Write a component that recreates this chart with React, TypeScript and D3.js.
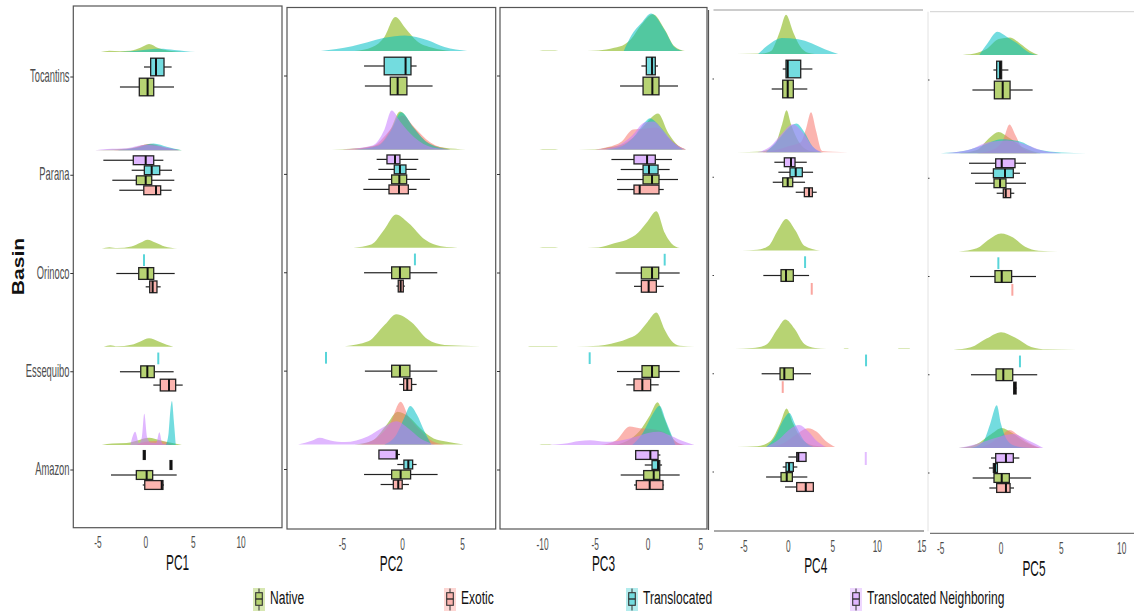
import React from "react";
import * as d3 from "d3";

// ---------- data ----------
const basins = ["Tocantins", "Parana", "Orinoco", "Essequibo", "Amazon"];
const groups = ["Native", "Exotic", "Translocated", "Translocated Neighboring"];
const dodgeOrder = ["Translocated Neighboring", "Translocated", "Native", "Exotic"];
const groupColors = ["#7CAE00", "#F8766D", "#00BFC4", "#C77CFF"];
const pcNames = ["PC1", "PC2", "PC3", "PC4", "PC5"];
const pcDomains = [[-7.59, 14.29], [-9.62, 7.77], [-14.03, 5.59], [-8.97, 15.13], [-6.05, 11.02]];
const pcTicks = [[-5, 0, 5, 10], [-5, 0, 5], [-10, -5, 0, 5], [-5, 0, 5, 10, 15], [-5, 0, 5, 10]];

// box stats: basin, group, lower whisker, q1, median, q3, upper whisker
const pc1Boxes = [
  ["Tocantins", "Translocated", -0.18, 0.52, 1.08, 1.92, 2.72],
  ["Tocantins", "Native", -2.7, -0.67, 0.2, 0.84, 2.97],
  ["Parana", "Translocated Neighboring", -4.44, -1.3, 0, 0.84, 1.85],
  ["Parana", "Translocated", -1.47, -0.14, 0.63, 1.47, 2.76],
  ["Parana", "Native", -3.5, -0.98, 0, 0.63, 3.0],
  ["Parana", "Exotic", -2.77, -0.2, 1.08, 1.57, 2.72],
  ["Orinoco", "Translocated", -0.18, -0.18, -0.18, -0.18, -0.18],
  ["Orinoco", "Native", -3.08, -0.73, 0.2, 0.84, 3.04],
  ["Orinoco", "Exotic", 0, 0.42, 0.73, 1.18, 1.57],
  ["Essequibo", "Translocated", 1.32, 1.32, 1.32, 1.32, 1.32],
  ["Essequibo", "Native", -2.7, -0.52, 0.17, 0.9, 2.93],
  ["Essequibo", "Exotic", 0.8, 1.53, 2.44, 3.14, 3.88],
  ["Amazon", "Translocated Neighboring", -0.25, -0.25, -0.15, -0.05, -0.05],
  ["Amazon", "Translocated", 2.55, 2.55, 2.65, 2.75, 2.75],
  ["Amazon", "Native", -3.64, -0.98, 0.1, 0.73, 3.25],
  ["Amazon", "Exotic", -0.31, -0.1, 1.68, 1.81, 1.92],
];
const pc2Boxes = [
  ["Tocantins", "Translocated", -3.2, -1.52, 0.26, 0.71, 1.18],
  ["Tocantins", "Native", -3.13, -1.01, -0.4, 0.37, 2.51],
  ["Parana", "Translocated Neighboring", -2.15, -1.29, -0.62, -0.21, 1.32],
  ["Parana", "Translocated", -2.01, -0.68, -0.21, 0.29, 1.18],
  ["Parana", "Native", -2.85, -0.9, -0.26, 0.35, 2.29],
  ["Parana", "Exotic", -3.26, -1.12, -0.29, 0.49, 1.18],
  ["Orinoco", "Translocated", 1.04, 1.04, 1.04, 1.04, 1.04],
  ["Orinoco", "Native", -3.2, -0.9, -0.21, 0.62, 2.9],
  ["Orinoco", "Exotic", -0.5, -0.35, -0.15, 0.07, 0.2],
  ["Essequibo", "Translocated", -6.37, -6.37, -6.37, -6.37, -6.37],
  ["Essequibo", "Native", -3.13, -0.9, -0.21, 0.62, 2.9],
  ["Essequibo", "Exotic", -0.26, 0.1, 0.4, 0.76, 1.18],
  ["Amazon", "Translocated Neighboring", -1.96, -1.96, -0.49, -0.43, -0.21],
  ["Amazon", "Translocated", -0.43, 0.12, 0.49, 0.85, 1.18],
  ["Amazon", "Native", -3.2, -0.9, -0.15, 0.68, 2.93],
  ["Amazon", "Exotic", -1.82, -0.76, -0.35, -0.02, 0.54],
];
const pc3Boxes = [
  ["Tocantins", "Translocated", -0.63, -0.16, 0.38, 0.69, 0.95],
  ["Tocantins", "Native", -2.65, -0.47, 0.41, 1.04, 2.84],
  ["Parana", "Translocated Neighboring", -3.47, -1.33, -0.09, 0.69, 2.27],
  ["Parana", "Translocated", -2.59, -0.47, 0.09, 0.95, 2.05],
  ["Parana", "Native", -2.94, -0.47, 0.38, 1.04, 2.84],
  ["Parana", "Exotic", -2.91, -1.33, -0.79, 1.04, 1.49],
  ["Orinoco", "Translocated", 1.58, 1.58, 1.58, 1.58, 1.58],
  ["Orinoco", "Native", -3.07, -0.63, 0.38, 1.01, 3.0],
  ["Orinoco", "Exotic", -1.33, -0.63, 0.06, 0.79, 1.49],
  ["Essequibo", "Translocated", -5.53, -5.53, -5.53, -5.53, -5.53],
  ["Essequibo", "Native", -2.94, -0.57, 0.38, 1.04, 3.0],
  ["Essequibo", "Exotic", -2.06, -1.33, -0.54, 0.25, 1.01],
  ["Amazon", "Translocated Neighboring", -1.17, -1.17, 0.22, 0.95, 1.17],
  ["Amazon", "Translocated", -0.31, 0.38, 0.95, 1.11, 1.33],
  ["Amazon", "Native", -2.59, -0.41, 0.54, 1.11, 3.0],
  ["Amazon", "Exotic", -1.33, -1.11, 0.16, 1.42, 1.52],
];
const pc4Boxes = [
  ["Tocantins", "Translocated", -0.63, -0.26, -0.07, 1.39, 2.7],
  ["Tocantins", "Native", -1.87, -0.63, -0.07, 0.56, 2.13],
  ["Parana", "Translocated Neighboring", -1.57, -0.45, 0.3, 0.75, 2.07],
  ["Parana", "Translocated", -1.12, 0.19, 0.83, 1.57, 2.78],
  ["Parana", "Native", -1.75, -0.63, -0.07, 0.49, 1.88],
  ["Parana", "Exotic", 0.83, 1.8, 2.33, 2.7, 3.19],
  ["Orinoco", "Translocated", 1.88, 1.88, 1.88, 1.88, 1.88],
  ["Orinoco", "Native", -2.81, -0.82, -0.26, 0.56, 2.33],
  ["Orinoco", "Exotic", 2.63, 2.63, 2.63, 2.63, 2.63],
  ["Essequibo", "Translocated", 8.73, 8.73, 8.73, 8.73, 8.73],
  ["Essequibo", "Native", -3.0, -0.93, -0.45, 0.56, 2.55],
  ["Essequibo", "Exotic", -0.63, -0.63, -0.63, -0.63, -0.63],
  ["Amazon", "Translocated Neighboring", 0, 0.94, 1.12, 1.99, 1.99],
  ["Amazon", "Translocated", -0.63, -0.26, 0.08, 0.56, 1.01],
  ["Amazon", "Native", -2.5, -0.82, -0.18, 0.45, 2.13],
  ["Amazon", "Exotic", -0.37, 0.94, 1.96, 2.81, 2.81],
];
const pc5Boxes = [
  ["Tocantins", "Translocated", -0.63, -0.36, -0.08, 0.05, 0.61],
  ["Tocantins", "Native", -2.37, -0.55, 0.14, 0.75, 2.62],
  ["Parana", "Translocated Neighboring", -2.65, -0.44, 0.06, 1.16, 2.07],
  ["Parana", "Translocated", -2.49, -0.63, 0.33, 1.02, 1.57],
  ["Parana", "Native", -2.15, -0.58, -0.08, 0.41, 2.07],
  ["Parana", "Exotic", -0.36, 0.19, 0.39, 0.8, 1.1],
  ["Orinoco", "Translocated", -0.22, -0.22, -0.22, -0.22, -0.22],
  ["Orinoco", "Native", -2.57, -0.5, 0.06, 0.88, 2.9],
  ["Orinoco", "Exotic", 0.94, 0.94, 0.94, 0.94, 0.94],
  ["Essequibo", "Translocated", 1.57, 1.57, 1.57, 1.57, 1.57],
  ["Essequibo", "Native", -2.49, -0.41, 0.19, 0.97, 3.0],
  ["Essequibo", "Exotic", 1.0, 1.05, 1.16, 1.25, 1.3],
  ["Amazon", "Translocated Neighboring", -0.83, -0.44, 0.41, 1.02, 1.52],
  ["Amazon", "Translocated", -1.0, -0.63, -0.5, -0.3, -0.3],
  ["Amazon", "Native", -2.35, -0.58, 0.06, 0.69, 2.49],
  ["Amazon", "Exotic", -0.97, -0.36, 0.41, 0.75, 1.08],
];

// outlying single observations: pc index, basin, group, value
const outliers = [[3, "Amazon", "Translocated Neighboring", 8.7]];

// density curves: basin, group, [value, density]
const pc1Dens = [
  ["Tocantins", "Native", [[-4.7, 0], [-3.8, 0.03], [-2.7, 0.02], [-1.6, 0.03], [-0.5, 0.11], [0.35, 0.2], [1.3, 0.1], [2.5, 0.03], [3.8, 0]]],
  ["Tocantins", "Translocated", [[-2.7, 0], [-1, 0.03], [0.5, 0.07], [1.5, 0.08], [3, 0.05], [4.2, 0.02], [5.2, 0]]],
  ["Parana", "Native", [[-5.3, 0], [-3.5, 0.02], [-1.5, 0.05], [0.3, 0.15], [2, 0.06], [3.8, 0]]],
  ["Parana", "Exotic", [[-4, 0], [-1.5, 0.04], [0.5, 0.16], [2, 0.07], [3.5, 0]]],
  ["Parana", "Translocated", [[-3, 0], [-1, 0.06], [0.8, 0.17], [2.3, 0.08], [3.8, 0]]],
  ["Parana", "Translocated Neighboring", [[-5.3, 0], [-4, 0.03], [-2, 0.05], [0, 0.14], [1.5, 0.1], [3.5, 0]]],
  ["Orinoco", "Native", [[-4.6, 0], [-3.8, 0.03], [-3, 0.01], [-1.5, 0.05], [-0.5, 0.15], [0.2, 0.22], [1, 0.15], [2, 0.05], [3.3, 0]]],
  ["Essequibo", "Native", [[-4.4, 0], [-3.7, 0.04], [-3, 0.01], [-1.5, 0.05], [-0.5, 0.14], [0.35, 0.21], [1.3, 0.14], [2.2, 0.05], [2.9, 0]]],
  ["Amazon", "Native", [[-4.6, 0], [-3.5, 0.04], [-2, 0.05], [-0.5, 0.14], [0.35, 0.18], [1.5, 0.12], [2.8, 0.05], [3.8, 0]]],
  ["Amazon", "Exotic", [[-1, 0], [0, 0.08], [1, 0.1], [2, 0.08], [2.8, 0]]],
  ["Amazon", "Translocated", [[2.1, 0], [2.4, 0.3], [2.6, 0.9], [2.75, 1.1], [2.95, 0.6], [3.15, 0]]],
  ["Amazon", "Translocated Neighboring", [[-1.6, 0], [-1.1, 0.33], [-0.7, 0.05], [-0.4, 0.2], [-0.15, 0.78], [0.15, 0.2], [0.5, 0.06], [1.1, 0.05], [1.43, 0.32], [1.75, 0.03], [2.5, 0]]],
];
const pc2Dens = [
  ["Tocantins", "Native", [[-4, 0], [-2.5, 0.1], [-1.5, 0.35], [-0.6, 0.85], [0.3, 0.55], [1.2, 0.25], [2.5, 0.08], [4, 0]]],
  ["Tocantins", "Translocated", [[-6.8, 0], [-4.2, 0.12], [-2.9, 0.22], [-1.5, 0.33], [0.2, 0.39], [2.1, 0.27], [3.5, 0.1], [5.4, 0]]],
  ["Parana", "Native", [[-5.9, 0], [-3.5, 0.03], [-2, 0.12], [-1, 0.5], [-0.2, 0.95], [0.8, 0.6], [2, 0.2], [3.5, 0.04], [5.3, 0]]],
  ["Parana", "Exotic", [[-5, 0], [-2.5, 0.08], [-1, 0.5], [0, 0.85], [1, 0.55], [2.3, 0.18], [4, 0]]],
  ["Parana", "Translocated", [[-4, 0], [-2, 0.1], [-1, 0.45], [-0.1, 0.93], [0.9, 0.55], [2.2, 0.15], [4, 0]]],
  ["Parana", "Translocated Neighboring", [[-5, 0], [-2.5, 0.1], [-1.5, 0.5], [-0.9, 0.97], [-0.2, 0.7], [1, 0.3], [2.5, 0.05], [4, 0]]],
  ["Orinoco", "Native", [[-4.1, 0], [-2.6, 0.08], [-1.5, 0.46], [-0.55, 0.83], [0.5, 0.62], [1.9, 0.2], [3.2, 0.04], [5.1, 0]]],
  ["Essequibo", "Native", [[-4.8, 0], [-2.85, 0.12], [-1.46, 0.54], [-0.5, 0.8], [0.76, 0.6], [2.1, 0.17], [3.5, 0.03], [6.5, 0]]],
  ["Amazon", "Native", [[-4, 0], [-2.5, 0.1], [-1.3, 0.5], [-0.4, 0.82], [0.5, 0.7], [1.5, 0.4], [2.6, 0.15], [3.5, 0.08], [5.1, 0]]],
  ["Amazon", "Exotic", [[-3.5, 0], [-2, 0.2], [-1, 0.55], [-0.15, 1.07], [0.5, 0.7], [1.5, 0.35], [2.5, 0.08], [3.5, 0]]],
  ["Amazon", "Translocated", [[-1.5, 0], [-0.5, 0.25], [0.2, 0.7], [0.65, 0.96], [1.2, 0.75], [1.8, 0.35], [2.4, 0]]],
  ["Amazon", "Translocated Neighboring", [[-8.7, 0], [-7.5, 0.1], [-6.9, 0.17], [-6, 0.1], [-4.8, 0.06], [-2.9, 0.2], [-1.5, 0.45], [-0.5, 0.58], [0.5, 0.4], [1.5, 0.15], [2.7, 0]]],
];
const pc3Dens = [
  ["Tocantins", "Native", [[-10.3, 0], [-10, 0.012], [-8.8, 0.012], [-8.5, 0], [-6.8, 0], [-4.7, 0.015], [-3.2, 0.08], [-2.2, 0.17], [-1.6, 0.3], [-0.63, 0.66], [0.47, 0.92], [1.58, 0.54], [2.5, 0.12], [3.5, 0]]],
  ["Tocantins", "Translocated", [[-2.3, 0], [-1.6, 0.38], [-0.63, 0.7], [0.3, 0.94], [1.58, 0.52], [2.5, 0.1], [3.3, 0]]],
  ["Parana", "Native", [[-10.3, 0], [-10, 0.01], [-8.8, 0.01], [-8.5, 0], [-6.6, 0], [-4.7, 0.01], [-3.8, 0.05], [-2.5, 0.12], [-1.4, 0.3], [-0.3, 0.62], [0.95, 0.9], [1.9, 0.42], [2.84, 0.1], [3.6, 0]]],
  ["Parana", "Exotic", [[-5, 0], [-3.8, 0.06], [-2.5, 0.2], [-1.42, 0.5], [-0.3, 0.52], [0.8, 0.55], [1.9, 0.3], [2.84, 0.1], [3.6, 0]]],
  ["Parana", "Translocated", [[-4, 0], [-2.5, 0.08], [-1.4, 0.3], [-0.3, 0.68], [0.16, 0.78], [1.2, 0.55], [2.1, 0.25], [3.3, 0]]],
  ["Parana", "Translocated Neighboring", [[-5, 0], [-3, 0.08], [-1.5, 0.35], [-0.3, 0.68], [0.5, 0.7], [1.5, 0.45], [2.5, 0.15], [3.6, 0]]],
  ["Orinoco", "Native", [[-10.3, 0], [-10, 0.01], [-8.8, 0.01], [-8.5, 0], [-6.8, 0], [-4.7, 0.015], [-3.2, 0.12], [-2.06, 0.2], [-0.95, 0.38], [-0.03, 0.67], [0.79, 0.92], [1.58, 0.38], [2.2, 0.12], [3.0, 0]]],
  ["Essequibo", "Native", [[-11.4, 0], [-11.2, 0.01], [-8.7, 0.01], [-8.5, 0], [-6.8, 0], [-4.7, 0.02], [-3.5, 0.07], [-2.06, 0.18], [-0.95, 0.33], [-0.03, 0.62], [0.79, 0.85], [1.58, 0.42], [2.2, 0.15], [3.0, 0.02], [4.4, 0]]],
  ["Amazon", "Native", [[-10.3, 0], [-10.1, 0.01], [-9.3, 0.01], [-9.1, 0], [-3.5, 0], [-2, 0.1], [-0.8, 0.35], [0.2, 0.75], [0.9, 1.07], [1.5, 0.7], [2.4, 0.15], [3.3, 0]]],
  ["Amazon", "Exotic", [[-4.5, 0], [-3, 0.12], [-1.74, 0.46], [-0.8, 0.42], [0.3, 0.4], [1.5, 0.32], [2.5, 0.1], [3.5, 0]]],
  ["Amazon", "Translocated", [[-1.5, 0], [-0.5, 0.3], [0.4, 0.75], [1.1, 0.98], [1.7, 0.6], [2.6, 0]]],
  ["Amazon", "Translocated Neighboring", [[-9.5, 0], [-8, 0.03], [-6.5, 0.1], [-5.5, 0.12], [-4, 0.08], [-2.5, 0.12], [-1, 0.22], [0, 0.3], [1, 0.33], [2, 0.25], [3.1, 0.12], [4.4, 0]]],
];
const pc4Dens = [
  ["Tocantins", "Native", [[-5.8, 0], [-3, 0.01], [-1.9, 0.08], [-1.5, 0.25], [-0.93, 0.58], [-0.26, 0.98], [0.56, 0.54], [1.3, 0.2], [2.2, 0.03], [3, 0]]],
  ["Tocantins", "Translocated", [[-3.4, 0], [-1.87, 0.29], [-0.75, 0.4], [1.12, 0.37], [2.6, 0.27], [4.1, 0.12], [5.6, 0]]],
  ["Parana", "Native", [[-5.8, 0], [-3, 0.02], [-1.5, 0.2], [-0.7, 0.7], [-0.2, 1.05], [0.3, 0.7], [1.2, 0.25], [2.5, 0.03], [4, 0]]],
  ["Parana", "Exotic", [[-3, 0], [-1.5, 0.05], [0, 0.15], [1.4, 0.25], [2, 0.6], [2.55, 1.0], [3.1, 0.55], [3.8, 0.03], [5, 0.01], [6.7, 0]]],
  ["Parana", "Translocated", [[-2.5, 0], [-1.2, 0.3], [0, 0.6], [0.9, 0.72], [1.8, 0.5], [2.7, 0.15], [3.7, 0]]],
  ["Parana", "Translocated Neighboring", [[-3.5, 0], [-2, 0.15], [-0.8, 0.45], [0.5, 0.7], [1.6, 0.5], [2.7, 0.15], [3.8, 0]]],
  ["Orinoco", "Native", [[-5.2, 0], [-3.5, 0.02], [-2.2, 0.12], [-1.2, 0.5], [-0.25, 0.79], [0.8, 0.5], [1.8, 0.12], [3.56, 0]]],
  ["Essequibo", "Native", [[-6, 0], [-4, 0.02], [-2.5, 0.1], [-1.2, 0.5], [-0.35, 0.73], [0.7, 0.5], [1.8, 0.12], [3, 0.02], [4.3, 0], [6.2, 0], [6.3, 0.01], [6.7, 0.01], [6.8, 0], [12.3, 0], [12.4, 0.01], [13.6, 0.01], [13.7, 0]]],
  ["Amazon", "Native", [[-5.8, 0], [-3.5, 0.02], [-2, 0.15], [-0.9, 0.6], [-0.2, 0.96], [0.5, 0.6], [1.5, 0.2], [3, 0.03], [4.5, 0]]],
  ["Amazon", "Exotic", [[-2, 0], [-0.5, 0.1], [0.8, 0.3], [2.2, 0.47], [3.2, 0.38], [4.2, 0.15], [5.25, 0]]],
  ["Amazon", "Translocated", [[-2.5, 0], [-1.5, 0.25], [-0.5, 0.7], [0.1, 0.85], [0.8, 0.55], [1.8, 0.15], [2.8, 0]]],
  ["Amazon", "Translocated Neighboring", [[-2.5, 0], [-1, 0.2], [0.2, 0.45], [1.2, 0.55], [2.2, 0.4], [3.2, 0.15], [4.2, 0]]],
];
const pc5Dens = [
  ["Tocantins", "Native", [[-3.5, 0], [-2.2, 0.04], [-1.2, 0.15], [-0.2, 0.4], [0.75, 0.44], [1.6, 0.28], [2.4, 0.1], [3.1, 0]]],
  ["Tocantins", "Translocated", [[-1.8, 0], [-1.1, 0.3], [-0.3, 0.58], [0.5, 0.45], [1.3, 0.3], [2.4, 0.05], [3, 0]]],
  ["Parana", "Native", [[-3.5, 0], [-2, 0.08], [-0.9, 0.4], [-0.2, 0.53], [0.6, 0.4], [1.8, 0.15], [3.3, 0]]],
  ["Parana", "Exotic", [[-2, 0], [-0.6, 0.1], [0.2, 0.35], [0.7, 0.72], [1.2, 0.45], [1.8, 0.12], [3, 0]]],
  ["Parana", "Translocated", [[-5, 0], [-3, 0.06], [-1.5, 0.2], [0, 0.35], [1.5, 0.3], [3, 0.1], [5, 0.02], [7.1, 0]]],
  ["Parana", "Translocated Neighboring", [[-4.5, 0], [-2.5, 0.1], [-1, 0.28], [0.5, 0.32], [2, 0.22], [3.5, 0.06], [5, 0]]],
  ["Orinoco", "Native", [[-3.5, 0], [-2, 0.08], [-1, 0.3], [0, 0.45], [1, 0.35], [2, 0.12], [3.1, 0.02], [4.7, 0]]],
  ["Essequibo", "Native", [[-3.95, 0], [-2.5, 0.06], [-1.2, 0.28], [0, 0.44], [1.2, 0.3], [2.5, 0.07], [3.8, 0.01], [6.3, 0]]],
  ["Amazon", "Native", [[-3.5, 0], [-2, 0.1], [-0.8, 0.35], [0.06, 0.5], [0.9, 0.38], [2, 0.15], [3.2, 0]]],
  ["Amazon", "Exotic", [[-2, 0], [-1, 0.1], [0, 0.3], [0.7, 0.45], [1.5, 0.3], [2.5, 0.1], [3.3, 0]]],
  ["Amazon", "Translocated", [[-2.5, 0], [-1.5, 0.15], [-0.9, 0.6], [-0.35, 1.07], [0, 0.6], [0.5, 0.2], [1.2, 0.05], [2.5, 0]]],
  ["Amazon", "Translocated Neighboring", [[-3.5, 0], [-2, 0.1], [-0.5, 0.25], [1, 0.35], [2.2, 0.2], [3.5, 0]]],
];

const pcBoxes = [pc1Boxes, pc2Boxes, pc3Boxes, pc4Boxes, pc5Boxes];
const pcDens = [pc1Dens, pc2Dens, pc3Dens, pc4Dens, pc5Dens];

// ---------- layout ----------
const layout = [
  { left: 73.3, right: 282, top: 6, bottom: 527.7, yFirst: 77, yLast: 470, frame: "box" },
  { left: 287, right: 495.7, top: 7.5, bottom: 529, yFirst: 76, yLast: 469.5, frame: "box" },
  { left: 500, right: 707, top: 7.5, bottom: 529, yFirst: 76, yLast: 470, frame: "box" },
  { left: 708.5, right: 923, top: 10, bottom: 531, yFirst: 79, yLast: 472, frame: "open" },
  { left: 928, right: 1134, top: 11.7, bottom: 533.3, yFirst: 80, yLast: 473, frame: "light" },
];
const FONT = "'Liberation Sans', Arial, sans-serif";
const colorOf = (g: string) => groupColors[groups.indexOf(g)];

function SText({ x, y, sx, size, anchor = "middle", children, fill = "#222", weight = "normal", rotate = 0 }: any) {
  return (
    <text
      transform={`translate(${x},${y}) rotate(${rotate}) scale(${sx},1)`}
      textAnchor={anchor}
      fontSize={size}
      fontFamily={FONT}
      fontWeight={weight}
      fill={fill}
    >
      {children}
    </text>
  );
}

function Panel({ i }: { i: number }) {
  const L = layout[i];
  const x = d3.scaleLinear().domain(pcDomains[i]).range([L.left, L.right]);
  const y = d3.scalePoint().domain(basins).range([L.yFirst, L.yLast]);
  const dH = d3.scaleLinear().domain([0, 1]).range([0, 40]);
  const boxes = pcBoxes[i];
  const dens = pcDens[i];
  const dodge = 40;

  const slotFor = (basin: string, group: string) => {
    const present = dodgeOrder.filter((g) => boxes.some((b) => b[0] === basin && b[1] === g));
    const n = present.length;
    const k = present.indexOf(group);
    const slot = dodge / n;
    return { cy: (y(basin) as number) - dodge / 2 + slot * (k + 0.5), h: slot * 0.88 };
  };

  return (
    <g>
      {/* frame */}
      {L.frame === "box" && (
        <rect x={L.left} y={L.top} width={L.right - L.left} height={L.bottom - L.top} fill="none" stroke="#555" strokeWidth={1.2} />
      )}
      {L.frame === "open" && (
        <g>
          <line x1={L.left} x2={L.left} y1={L.top} y2={L.bottom - 1} stroke="#555" strokeWidth={1.2} />
          <line x1={L.left + 5} x2={L.right} y1={L.top} y2={L.top} stroke="#999" strokeWidth={1.2} />
          <line x1={L.left + 5.5} x2={L.right + 1} y1={L.bottom} y2={L.bottom} stroke="#555" strokeWidth={1.2} />
        </g>
      )}
      {L.frame === "light" && (
        <g>
          <line x1={L.left} x2={L.left} y1={L.top} y2={L.bottom - 2} stroke="#e2e2e2" strokeWidth={1} />
          <line x1={L.left + 2} x2={L.right} y1={L.top} y2={L.top} stroke="#d0d0d0" strokeWidth={1} />
          <line x1={L.left + 2} x2={L.right} y1={L.bottom} y2={L.bottom} stroke="#777" strokeWidth={1.2} />
        </g>
      )}
      {/* y ticks */}
      {basins.map((b) =>
        L.frame === "box" ? (
          <line key={b} x1={L.left - 3} x2={L.left} y1={y(b)} y2={y(b)} stroke="#333" strokeWidth={1} />
        ) : (
          <line key={b} x1={L.left + (L.frame === "open" ? 4 : 0)} x2={L.left + (L.frame === "open" ? 5.5 : 1.5)} y1={y(b)} y2={y(b)} stroke="#444" strokeWidth={1.2} />
        )
      )}
      {/* densities */}
      {basins.map((b) => {
        const base = (y(b) as number) - 25;
        const area = d3
          .area<number[]>()
          .x((d) => x(d[0]))
          .y0(base)
          .y1((d) => base - dH(d[1]))
          .curve(d3.curveMonotoneX);
        return groups.map((g) => {
          const rec = dens.find((d) => d[0] === b && d[1] === g);
          if (!rec) return null;
          return <path key={b + g} d={area(rec[2] as number[][]) || ""} fill={colorOf(g)} fillOpacity={0.55} stroke="none" />;
        });
      })}
      {/* boxplots */}
      {boxes.map((r) => {
        const [b, g, lo, q1, med, q3, hi] = r as [string, string, number, number, number, number, number];
        const { cy, h } = slotFor(b, g);
        const col = colorOf(g);
        if (q3 - q1 < 1e-9) {
          return <line key={b + g} x1={x(med)} x2={x(med)} y1={cy - h / 2} y2={cy + h / 2} stroke={col} strokeOpacity={0.65} strokeWidth={2} />;
        }
        return (
          <g key={b + g}>
            <line x1={x(lo)} x2={x(q1)} y1={cy} y2={cy} stroke="#222" strokeWidth={1.2} />
            <line x1={x(q3)} x2={x(hi)} y1={cy} y2={cy} stroke="#222" strokeWidth={1.2} />
            <rect x={x(q1)} y={cy - h / 2} width={x(q3) - x(q1)} height={h} fill="#fff" />
            <rect x={x(q1)} y={cy - h / 2} width={x(q3) - x(q1)} height={h} fill={col} fillOpacity={0.55} stroke="#222" strokeWidth={1.3} />
            <line x1={x(med)} x2={x(med)} y1={cy - h / 2} y2={cy + h / 2} stroke="#111" strokeWidth={2} />
          </g>
        );
      })}
      {outliers
        .filter((o) => o[0] === i)
        .map((o, k) => {
          const { cy } = slotFor(o[1] as string, o[2] as string);
          return (
            <line key={"o" + k} x1={x(o[3] as number)} x2={x(o[3] as number)} y1={cy - 5} y2={cy + 8} stroke={colorOf(o[2] as string)} strokeOpacity={0.5} strokeWidth={2} />
          );
        })}
      {/* x tick labels */}
      {pcTicks[i].map((t) => (
        <SText key={t} x={x(t)} y={L.bottom + 20.6} sx={0.52} size={16} fill="#4d4d4d">
          {String(t)}
        </SText>
      ))}
      {/* title */}
      <SText x={(L.left + L.right) / 2 + (i === 4 ? 3 : 0)} y={L.bottom + 42.3} sx={0.54} size={22} fill="#111">
        {pcNames[i]}
      </SText>
      {/* basin labels in first panel */}
      {i === 0 &&
        basins.map((b) => (
          <SText key={b} x={69.5} y={(y(b) as number) + 5} sx={0.52} size={18} anchor="end" fill="#4d4d4d">
            {b}
          </SText>
        ))}
    </g>
  );
}

const legendX = [253, 444, 626, 850];

function Legend() {
  return (
    <g>
      {groups.map((g, k) => {
        const kx = legendX[k];
        const col = colorOf(g);
        return (
          <g key={g}>
            <rect x={kx} y={588} width={12} height={23} fill={col} fillOpacity={0.3} />
            <line x1={kx + 6} x2={kx + 6} y1={588.5} y2={610.5} stroke="#333" strokeWidth={1} />
            <rect x={kx + 2.7} y={592.7} width={6.6} height={12.6} fill="#fff" />
            <rect x={kx + 2.7} y={592.7} width={6.6} height={12.6} fill={col} fillOpacity={0.55} stroke="#333" strokeWidth={1.1} />
            <line x1={kx + 2.7} x2={kx + 9.3} y1={599} y2={599} stroke="#222" strokeWidth={1.3} />
            <SText x={kx + 17} y={603.5} sx={0.634} size={19} anchor="start" fill="#111">
              {g}
            </SText>
          </g>
        );
      })}
    </g>
  );
}

export default function App() {
  return (
    <svg width={1134} height={616} style={{ position: "absolute", left: 0, top: 0, background: "#fff" }}>
      <rect x={0} y={0} width={1134} height={616} fill="#fff" />
      {pcNames.map((_, i) => (
        <Panel key={i} i={i} />
      ))}
      <SText x={24} y={266.5} sx={1.28} size={16.5} weight="bold" fill="#111" rotate={-90}>
        Basin
      </SText>
      <Legend />
    </svg>
  );
}
